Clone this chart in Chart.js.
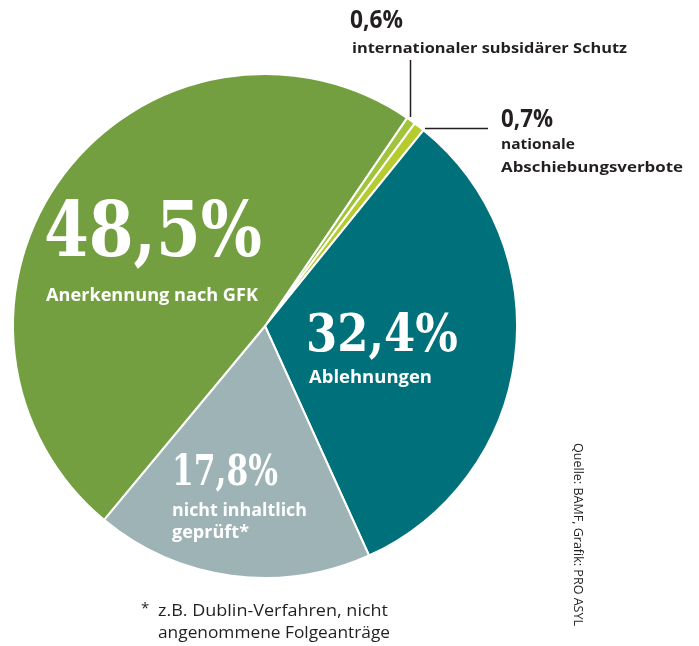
<!DOCTYPE html>
<html>
<head>
<meta charset="utf-8">
<script src="https://cdn.jsdelivr.net/npm/chart.js@4.4.1/dist/chart.umd.min.js"></script>
<style>
  html, body { margin: 0; padding: 0; background: #ffffff; }
  #wrap { width: 699px; height: 646px; position: relative; }
</style>
</head>
<body>
<div id="wrap"><canvas id="pie" width="699" height="646"></canvas></div>
<script>
// Daten (Reihenfolge im Uhrzeigersinn, beginnend bei 0,6 %)
const categories = [
    'internationaler subsidärer Schutz',
    'nationale Abschiebungsverbote',
    'Ablehnungen',
    'nicht inhaltlich geprüft*',
    'Anerkennung nach GFK'
];
const shares = [0.6, 0.7, 32.4, 17.8, 48.5];
const sliceColors = ['#a2c43c', '#b5cb2e', '#00707b', '#9db3b6', '#739f41'];

const TEXT_DARK = '#231f20';
const SANS = '"Open Sans", "Noto Sans", sans-serif';
const SLAB = '"DejaVu Serif", serif';

// Text mit fester Zielbreite zeichnen (horizontal gestaucht)
function fitText(ctx, text, x, y, width, font, color) {
    ctx.save();
    ctx.font = font;
    ctx.fillStyle = color;
    ctx.textBaseline = 'alphabetic';
    ctx.textAlign = 'left';
    const w = ctx.measureText(text).width;
    ctx.translate(x, y);
    if (width && w > 0) ctx.scale(width / w, 1);
    ctx.fillText(text, 0, 0);
    ctx.restore();
}

const labelPlugin = {
    id: 'labels',
    afterDraw(chart) {
        const ctx = chart.ctx;
        const white = '#ffffff';

        // Grosse Werte in den Segmenten
        fitText(ctx, '48,5%', 44, 256, 218, 'bold 76px ' + SLAB, white);
        fitText(ctx, 'Anerkennung nach GFK', 46, 301, 212, 'bold 17px ' + SANS, white);

        fitText(ctx, '32,4%', 306, 351, 152, 'bold 53px ' + SLAB, white);
        fitText(ctx, 'Ablehnungen', 309, 383, 123, 'bold 17px ' + SANS, white);

        fitText(ctx, '17,8%', 172, 485, 106, 'bold 42px ' + SLAB, white);
        fitText(ctx, 'nicht inhaltlich', 172, 516, 135, 'bold 17px ' + SANS, white);
        fitText(ctx, 'geprüft*', 172, 538, 77, 'bold 17px ' + SANS, white);

        // Kleine Segmente mit Hinweislinien
        fitText(ctx, '0,6%', 350, 28, 53, 'bold 25px ' + SANS, TEXT_DARK);
        fitText(ctx, 'internationaler subsidärer Schutz', 352, 53, 275, 'bold 15px ' + SANS, TEXT_DARK);
        fitText(ctx, '0,7%', 501, 127, 52, 'bold 25px ' + SANS, TEXT_DARK);
        fitText(ctx, 'nationale', 501, 149, 74, 'bold 15px ' + SANS, TEXT_DARK);
        fitText(ctx, 'Abschiebungsverbote', 501, 172, 182, 'bold 15px ' + SANS, TEXT_DARK);

        ctx.save();
        ctx.strokeStyle = TEXT_DARK;
        ctx.lineWidth = 1.5;
        ctx.beginPath();
        ctx.moveTo(410.5, 60);
        ctx.lineTo(410.5, 117);
        ctx.moveTo(425, 128.5);
        ctx.lineTo(488, 128.5);
        ctx.stroke();
        ctx.restore();

        // Fussnote
        fitText(ctx, '*', 141, 613, null, '15px ' + SANS, TEXT_DARK);
        fitText(ctx, 'z.B. Dublin-Verfahren, nicht', 158, 616, 230, '16px ' + SANS, TEXT_DARK);
        fitText(ctx, 'angenommene Folgeanträge', 158, 638, 232, '16px ' + SANS, TEXT_DARK);

        // Quelle (senkrecht)
        ctx.save();
        ctx.translate(574, 443);
        ctx.rotate(Math.PI / 2);
        fitText(ctx, 'Quelle: BAMF, Grafik: PRO ASYL', 0, 0, 183, '12px ' + SANS, TEXT_DARK);
        ctx.restore();
    }
};

new Chart(document.getElementById('pie'), {
    type: 'pie',
    data: {
        labels: categories,
        datasets: [{
            data: shares,
            backgroundColor: sliceColors,
            borderColor: '#ffffff',
            borderWidth: 2
        }]
    },
    options: {
        responsive: false,
        animation: false,
        rotation: 34.3,
        layout: { padding: { left: 12, top: 73, right: 181, bottom: 67 } },
        plugins: {
            legend: { display: false },
            tooltip: { enabled: false }
        }
    },
    plugins: [labelPlugin]
});
</script>
</body>
</html>
